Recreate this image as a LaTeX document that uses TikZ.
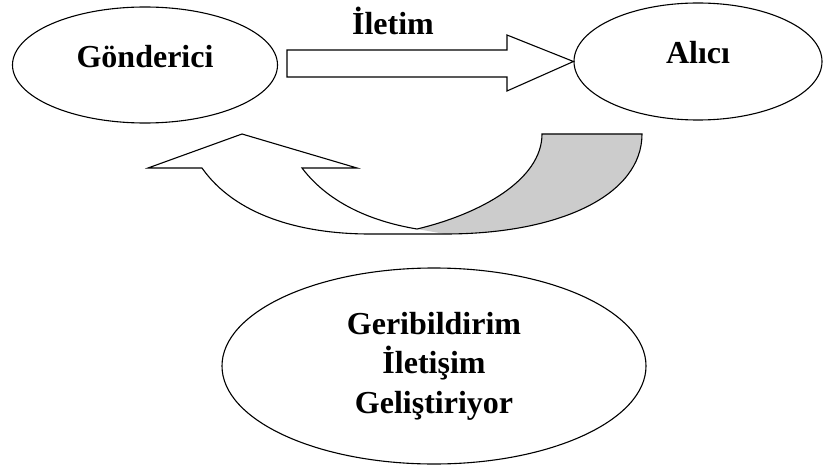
\documentclass[tikz,border=0pt]{standalone}
\usepackage{fontspec}
\setmainfont{Liberation Serif}
\usetikzlibrary{shapes.geometric}

\begin{document}
\begin{tikzpicture}[
    x=1pt, y=-1pt, line width=1.1pt,
    every node/.append style={font=\bfseries\fontsize{32}{39.5}\selectfont, align=center},
    oval/.style={draw, ellipse, inner sep=0pt},
    top oval/.style={oval, text depth=18pt},
    shape line/.style={draw, line join=miter, fill=white},
    shade part/.style={draw, fill=black!20}
]
    \useasboundingbox (0,0) rectangle (824,468);

    \node[top oval, minimum width=265pt, minimum height=116pt] (gon) at (145,65) {Gönderici};
    \node[top oval, minimum width=248pt, minimum height=117pt] (alici) at (698,61.5) {Alıcı};
    \node[oval, minimum width=424pt, minimum height=196pt] (geri) at (434,366)
        {Geribildirim\\İletişim\\Geliştiriyor};
    \node[anchor=base] (iletim) at (393,35) {İletim};

    \draw[shape line] (287,50) -- (507,50) -- (507,35) -- (alici.west)
        -- (507,91) -- (507,77) -- (287,77) -- cycle;

    \fill[black!20] (417,229) .. controls (480,214) and (542,180) .. (542,134)
        -- (642,134) .. controls (642,195) and (560,234) .. (445,234) -- cycle;
    \draw[line join=miter] (202,168) -- (148,168) -- (242,134) -- (357,168) -- (302,168)
        .. controls (330,205) and (375,222) .. (417,229)
        .. controls (480,214) and (542,180) .. (542,134) -- (642,134)
        .. controls (642,195) and (560,234) .. (445,234) -- (370,234)
        .. controls (300,234) and (235,215) .. (202,168);
\end{tikzpicture}
\end{document}
